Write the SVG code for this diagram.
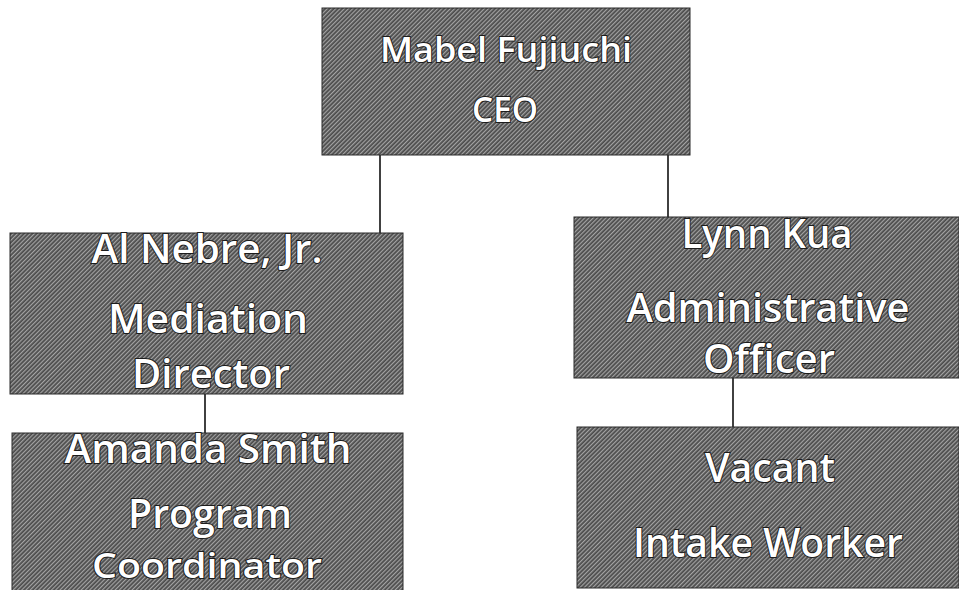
<svg xmlns="http://www.w3.org/2000/svg" width="959" height="590" viewBox="0 0 959 590">
  <style>
    .box { fill: url(#halftone); stroke: #2a2a2a; stroke-width: 1; }
    .lbl { font-family: "Open Sans", "Liberation Sans", sans-serif; font-weight: 600; fill: #ffffff; stroke: #1c1c1c; stroke-width: 2; paint-order: stroke fill; text-anchor: middle; }
    .conn { stroke: #111111; stroke-width: 1.6; fill: none; }
  </style>
  <defs>
    <pattern id="halftone" patternUnits="userSpaceOnUse" width="3" height="3" patternTransform="rotate(45)">
      <rect width="3" height="3" fill="#4c4c4c"/>
      <rect width="1.2" height="3" fill="#a4a4a4"/>
    </pattern>
  </defs>
  <rect width="959" height="590" fill="#ffffff"/>

  <g id="connectors">
    <line class="conn" x1="380" y1="155" x2="380" y2="233"/>
    <line class="conn" x1="668" y1="155" x2="668" y2="217"/>
    <line class="conn" x1="205" y1="394" x2="205" y2="433"/>
    <line class="conn" x1="733" y1="378" x2="733" y2="427"/>
  </g>

  <g id="ceo">
    <rect class="box" x="322" y="8" width="368" height="147"/>
    <text class="lbl" x="506" y="62" font-size="35" textLength="252" lengthAdjust="spacingAndGlyphs">Mabel Fujiuchi</text>
    <text class="lbl" x="505" y="122" font-size="35" textLength="66" lengthAdjust="spacingAndGlyphs">CEO</text>
  </g>

  <g id="mediation-director">
    <rect class="box" x="10" y="233" width="393" height="161"/>
    <text class="lbl" x="207" y="263" font-size="39" textLength="231" lengthAdjust="spacingAndGlyphs">Al Nebre, Jr.</text>
    <text class="lbl" x="208" y="333" font-size="39" textLength="200" lengthAdjust="spacingAndGlyphs">Mediation</text>
    <text class="lbl" x="211" y="388" font-size="39" textLength="158" lengthAdjust="spacingAndGlyphs">Director</text>
  </g>

  <g id="administrative-officer">
    <rect class="box" x="574" y="217" width="385" height="161"/>
    <text class="lbl" x="767" y="248" font-size="39" textLength="171" lengthAdjust="spacingAndGlyphs">Lynn Kua</text>
    <text class="lbl" x="768" y="322" font-size="39" textLength="283" lengthAdjust="spacingAndGlyphs">Administrative</text>
    <text class="lbl" x="769" y="373" font-size="39" textLength="132" lengthAdjust="spacingAndGlyphs">Officer</text>
  </g>

  <g id="program-coordinator">
    <rect class="box" x="12" y="433" width="391" height="170"/>
    <text class="lbl" x="208" y="463" font-size="39" textLength="287" lengthAdjust="spacingAndGlyphs">Amanda Smith</text>
    <text class="lbl" x="210" y="528" font-size="39" textLength="164" lengthAdjust="spacingAndGlyphs">Program</text>
    <text class="lbl" x="207" y="578" font-size="34" textLength="230" lengthAdjust="spacingAndGlyphs">Coordinator</text>
  </g>

  <g id="intake-worker">
    <rect class="box" x="577" y="427" width="382" height="161"/>
    <text class="lbl" x="770" y="482" font-size="39" textLength="130" lengthAdjust="spacingAndGlyphs">Vacant</text>
    <text class="lbl" x="768" y="557" font-size="39" textLength="270" lengthAdjust="spacingAndGlyphs">Intake Worker</text>
  </g>
</svg>
